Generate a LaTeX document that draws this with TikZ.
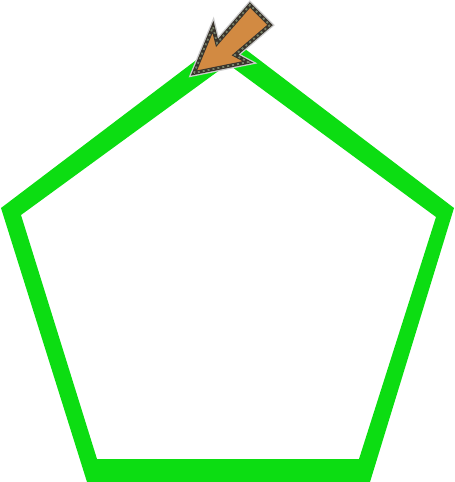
\documentclass[tikz,border=0pt]{standalone}
\usepackage{xcolor}
\usetikzlibrary{calc}
\definecolor{pentgreen}{RGB}{12,221,18}
\definecolor{arrowbrown}{RGB}{210,138,66}
\definecolor{arrowedge}{RGB}{58,52,44}
\definecolor{arrowdash}{RGB}{120,130,105}

\begin{document}
\begin{tikzpicture}[x=1pt,y=-1pt,
  pentagon/.style={fill=pentgreen,even odd rule},
  halo/.style={draw=black!20,line width=6.5pt,line join=miter},
  rim/.style={draw=arrowedge,line width=3.8pt,line join=miter},
  rimdash/.style={draw=arrowdash,line width=1.8pt,dash pattern=on 2pt off 3pt}]
\useasboundingbox (0,0) rectangle (455,482);
% outer and inner corners of the green frame
\coordinate (O1) at (228,36);  \coordinate (I1) at (228,64);
\coordinate (O2) at (454,208); \coordinate (I2) at (436,217);
\coordinate (O3) at (370,482); \coordinate (I3) at (359,459);
\coordinate (O4) at (87,482);  \coordinate (I4) at (97,459);
\coordinate (O5) at (1,208);   \coordinate (I5) at (21,215);
\fill[pentagon] (O1)--(O2)--(O3)--(O4)--(O5)--cycle (I1)--(I2)--(I3)--(I4)--(I5)--cycle;
% pointer
\coordinate (tip) at (194,73);
\coordinate (barbL) at (213,27);
\coordinate (neckL) at (217,43);
\coordinate (tailT) at (250,5);
\coordinate (tailR) at (270,25);
\coordinate (neckR) at (235,55);
\coordinate (barbR) at (248,62);
\draw[halo] (tip)--(barbL)--(neckL)--(tailT)--(tailR)--(neckR)--(barbR)--cycle;
\filldraw[rim,fill=arrowbrown] (tip)--(barbL)--(neckL)--(tailT)--(tailR)--(neckR)--(barbR)--cycle;
\draw[rimdash] (tip)--(barbL)--(neckL)--(tailT)--(tailR)--(neckR)--(barbR)--cycle;
\end{tikzpicture}
\end{document}
